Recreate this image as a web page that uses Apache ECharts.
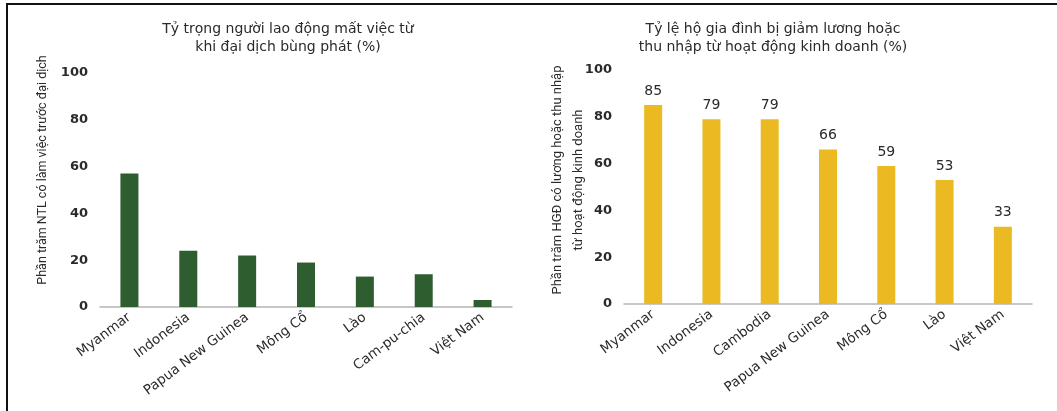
<!DOCTYPE html>
<html>
<head>
<meta charset="utf-8">
<script src="https://cdn.jsdelivr.net/npm/echarts@6/dist/echarts.min.js"></script>
<style>
html,body{margin:0;padding:0;background:#fff;}
#frame{position:absolute;left:6px;top:3px;width:1051px;height:408px;border-top:2px solid #111;border-left:2px solid #111;box-sizing:border-box;}
#chart{position:absolute;left:0;top:0;width:1057px;height:411px;}
</style>
</head>
<body>
<div id="frame"></div>
<div id="chart"></div>
<script>
// Left chart data
const leftCategories = ['Myanmar', 'Indonesia', 'Papua New Guinea', 'Mông Cổ', 'Lào', 'Cam-pu-chia', 'Việt Nam'];
const leftValues = [57, 24, 22, 19, 13, 14, 3];
// Right chart data
const rightCategories = ['Myanmar', 'Indonesia', 'Cambodia', 'Papua New Guinea', 'Mông Cổ', 'Lào', 'Việt Nam'];
const rightValues = [85, 79, 79, 66, 59, 53, 33];
const yTicks = [0, 20, 40, 60, 80, 100];

const leftTitle = 'Tỷ trọng người lao động mất việc từ\nkhi đại dịch bùng phát (%)';
const rightTitle = 'Tỷ lệ hộ gia đình bị giảm lương hoặc\nthu nhập từ hoạt động kinh doanh (%)';
const leftYName = 'Phần trăm NTL có làm việc trước đại dịch';
const rightYName = 'Phần trăm HGĐ có lương hoặc thu nhập\ntừ hoạt động kinh doanh';

const WIDE = '"DejaVu Sans", Verdana, sans-serif';
const NARROW = 'Roboto, "Liberation Sans", Arial, sans-serif';
const chart = echarts.init(document.getElementById('chart'));

function xAxis(idx, cats) {
  return {
    type: 'category', gridIndex: idx, data: cats,
    axisLine: {lineStyle: {color: '#b5b5b5', width: 1.5}},
    axisTick: {show: false},
    axisLabel: {rotate: 37, color: '#2a2a2a', fontSize: 13.5, fontFamily: WIDE, margin: 9, interval: 0}
  };
}
function yAxis(idx) {
  return {
    type: 'value', gridIndex: idx, min: 0, max: 100, interval: 20,
    axisLine: {show: false}, axisTick: {show: false}, splitLine: {show: false},
    axisLabel: {color: '#2a2a2a', fontSize: 13, fontWeight: 'bold', fontFamily: WIDE, margin: 12,
      formatter: v => yTicks.includes(v) ? String(v) : ''}
  };
}

chart.setOption({
  animation: false,
  textStyle: {fontFamily: WIDE},
  title: [
    {text: leftTitle, left: 283, top: 15, textAlign: 'center',
     textStyle: {fontSize: 14, fontWeight: 'normal', color: '#2a2a2a', lineHeight: 18, fontFamily: WIDE}},
    {text: rightTitle, left: 768, top: 15, textAlign: 'center',
     textStyle: {fontSize: 14, fontWeight: 'normal', color: '#2a2a2a', lineHeight: 18, fontFamily: WIDE}}
  ],
  grid: [
    {left: 100, top: 73, width: 412, height: 234},
    {left: 624, top: 70, width: 408, height: 234}
  ],
  xAxis: [xAxis(0, leftCategories), xAxis(1, rightCategories)],
  yAxis: [yAxis(0), yAxis(1)],
  graphic: [
    {type: 'text', x: 43, y: 170, rotation: Math.PI / 2,
     style: {text: leftYName, fill: '#2a2a2a', font: '12.5px ' + NARROW, align: 'center', verticalAlign: 'middle'}},
    {type: 'text', x: 568, y: 180, rotation: Math.PI / 2,
     style: {text: rightYName, fill: '#2a2a2a', font: '13px ' + NARROW, align: 'center', verticalAlign: 'middle', lineHeight: 21}}
  ],
  series: [
    {type: 'bar', xAxisIndex: 0, yAxisIndex: 0, data: leftValues, barWidth: 18,
     itemStyle: {color: '#2e5e2f'}},
    {type: 'bar', xAxisIndex: 1, yAxisIndex: 1, data: rightValues, barWidth: 18,
     itemStyle: {color: '#ebba23'},
     label: {show: true, position: 'top', distance: 7, color: '#2a2a2a', fontSize: 14, fontFamily: WIDE}}
  ]
});
</script>
</body>
</html>
